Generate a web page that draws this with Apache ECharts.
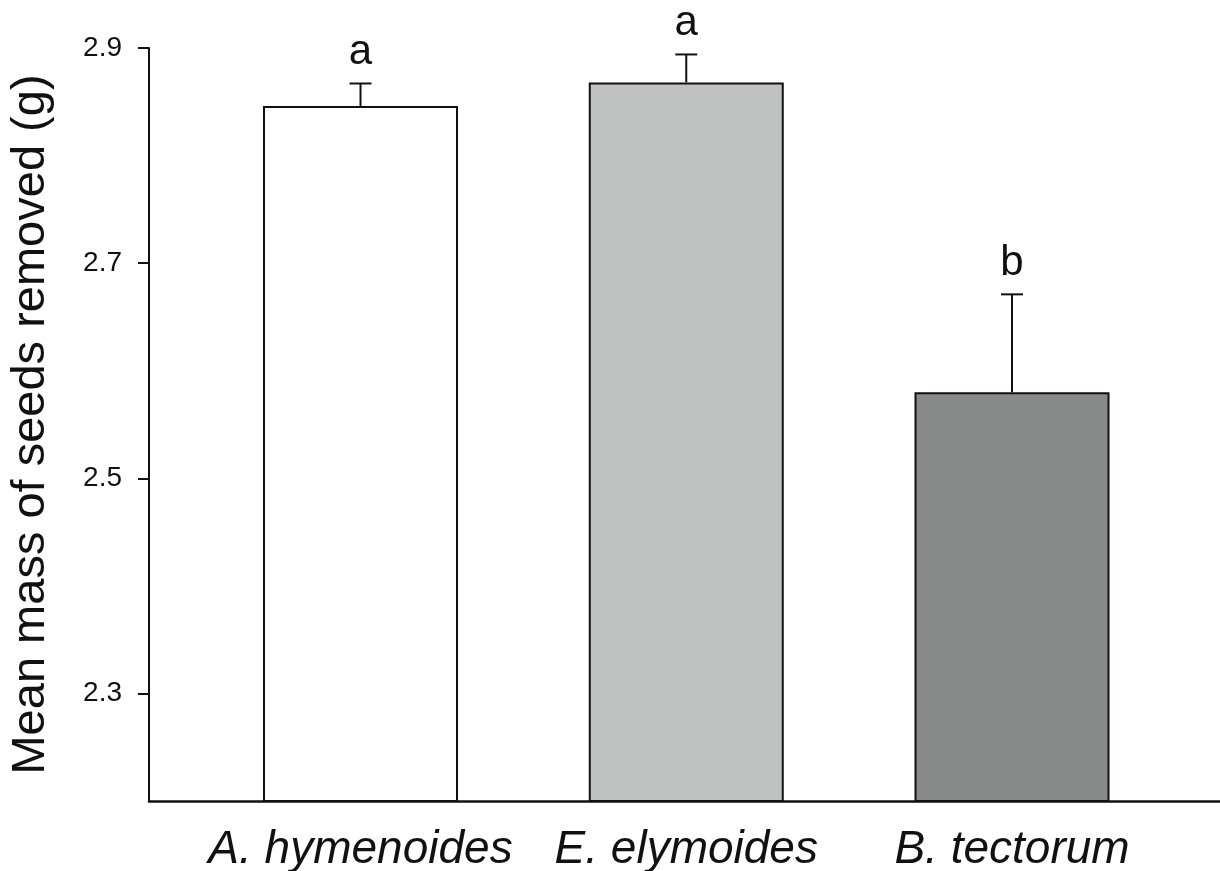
<!DOCTYPE html>
<html>
<head>
<meta charset="utf-8">
<script src="https://cdn.jsdelivr.net/npm/echarts@6/dist/echarts.min.js"></script>
<style>
  html, body { margin: 0; padding: 0; background: #fff; }
  #main { width: 1220px; height: 871px; }
</style>
</head>
<body>
<div id="main"></div>
<script>
// data
var categories = ['A. hymenoides', 'E. elymoides', 'B. tectorum'];
var positions = [1, 2, 3];
var means = [2.846, 2.868, 2.580];
var stdErrors = [0.021, 0.026, 0.091];
var letters = ['a', 'a', 'b'];
var barColors = ['#ffffff', '#c0c2c1', '#888a89'];
var yTicks = [2.3, 2.5, 2.7, 2.9];

var fontName = '"Liberation Sans", Arial, sans-serif';
var ink = '#111111';

var chart = echarts.init(document.getElementById('main'));

var barData = means.map(function (m, i) {
  return {
    value: [positions[i], m],
    itemStyle: { color: barColors[i] }
  };
});

var errData = means.map(function (m, i) {
  return [positions[i], m, m + stdErrors[i], letters[i]];
});

var option = {
  backgroundColor: '#fff',
  animation: false,
  grid: { left: 149, right: 0, top: 48, bottom: 70, outerBoundsMode: 'none', containLabel: false },
  xAxis: {
    type: 'value',
    min: 0.3507,
    max: 3.6385,
    splitLine: { show: false },
    axisLine: { onZero: false, lineStyle: { color: ink, width: 2.5 } },
    axisTick: { show: false },
    axisLabel: {
      customValues: positions,
      margin: 26,
      fontSize: 46,
      fontStyle: 'italic',
      fontFamily: fontName,
      color: ink,
      formatter: function (v) { return categories[Math.round(v) - 1]; }
    }
  },
  yAxis: {
    type: 'value',
    min: 2.2,
    max: 2.9,
    name: 'Mean mass of seeds removed (g)',
    nameLocation: 'middle',
    nameGap: 94,
    nameTextStyle: { fontSize: 47, fontFamily: fontName, color: ink },
    splitLine: { show: false },
    axisLine: { onZero: false, lineStyle: { color: ink, width: 2 } },
    axisTick: { customValues: yTicks, length: 11, lineStyle: { color: ink, width: 2 } },
    axisLabel: {
      customValues: yTicks,
      margin: 27,
      fontSize: 28,
      fontFamily: fontName,
      color: ink,
      formatter: function (v) { return v.toFixed(1); }
    }
  },
  series: [
    {
      type: 'bar',
      barWidth: 195,
      clip: true,
      itemStyle: { borderColor: ink, borderWidth: 2 },
      data: barData
    },
    {
      type: 'custom',
      clip: false,
      z: 5,
      renderItem: function (params, api) {
        var base = api.coord([api.value(0), api.value(1)]);
        var top = api.coord([api.value(0), api.value(2)]);
        var cap = 11;
        return {
          type: 'group',
          children: [
            {
              type: 'line',
              shape: { x1: base[0], y1: base[1], x2: top[0], y2: top[1] },
              style: { stroke: ink, lineWidth: 2 }
            },
            {
              type: 'line',
              shape: { x1: top[0] - cap, y1: top[1], x2: top[0] + cap, y2: top[1] },
              style: { stroke: ink, lineWidth: 2 }
            },
            {
              type: 'text',
              style: {
                text: api.value(3),
                x: top[0],
                y: top[1] - 10,
                align: 'center',
                verticalAlign: 'bottom',
                fontSize: 42,
                fontFamily: fontName,
                fill: ink
              }
            }
          ]
        };
      },
      data: errData
    }
  ]
};

chart.setOption(option);
</script>
</body>
</html>
